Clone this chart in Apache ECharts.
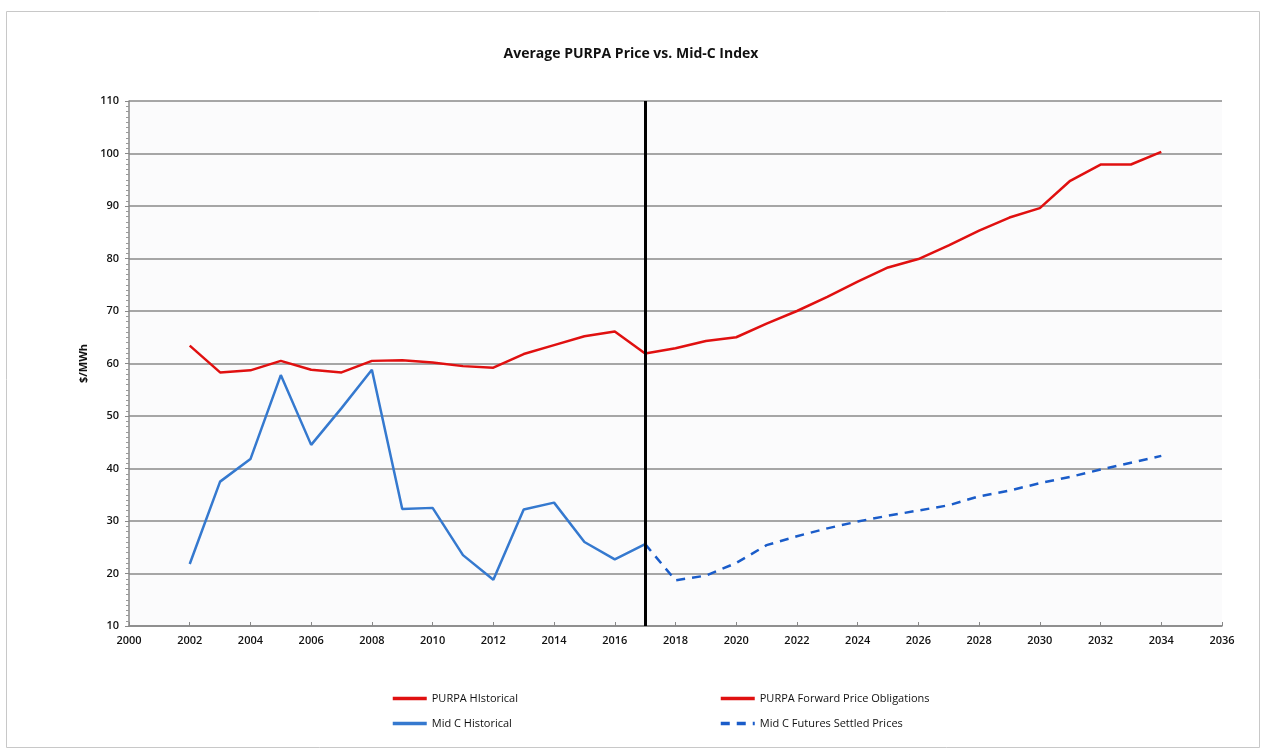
<!DOCTYPE html>
<html><head><meta charset="utf-8">
<script src="https://cdn.jsdelivr.net/npm/echarts@6/dist/echarts.min.js"></script>
<style>html,body{margin:0;padding:0;background:#fff}#c{width:1262px;height:748px}</style>
</head><body><div id="c"></div>
<script>
const purpaHistYears = [2002,2003,2004,2005,2006,2007,2008,2009,2010,2011,2012,2013,2014,2015,2016,2017];
const purpaHist = [63.4,58.3,58.7,60.5,58.8,58.3,60.5,60.6,60.2,59.5,59.2,61.8,63.5,65.2,66.1,61.9];
const purpaFwdYears = [2017,2018,2019,2020,2021,2022,2023,2024,2025,2026,2027,2028,2029,2030,2031,2032,2033,2034];
const purpaFwd = [61.9,62.9,64.3,65.0,67.6,70.0,72.7,75.6,78.3,79.9,82.5,85.3,87.8,89.6,94.8,97.9,97.9,100.3];
const midCHistYears = [2002,2003,2004,2005,2006,2007,2008,2009,2010,2011,2012,2013,2014,2015,2016,2017];
const midCHist = [21.8,37.5,41.8,57.8,44.5,51.5,58.8,32.3,32.5,23.5,18.8,32.2,33.5,26.0,22.7,25.6];
const midCFutYears = [2017,2018,2019,2020,2021,2022,2023,2024,2025,2026,2027,2028,2029,2030,2031,2032,2033,2034];
const midCFut = [25.6,18.7,19.6,22.0,25.4,27.1,28.6,29.9,31.0,32.0,33.0,34.7,35.8,37.2,38.4,39.8,41.1,42.4];
const dividerYear = 2017;
const seriesNames = ['PURPA HIstorical','PURPA Forward Price Obligations','Mid C Historical','Mid C Futures Settled Prices'];

const pair = (xs, ys) => xs.map((x, i) => [x, ys[i]]);
const FONT = '"Open Sans", "Liberation Sans", sans-serif';
const RED = '#e01010', BLUE = '#3579cf', DBLUE = '#1a5cc9';

const legendCommon = {
  orient: 'vertical', top: 688, itemGap: 14,
  itemWidth: 34, itemHeight: 10,
  itemStyle: {opacity: 0},
  lineStyle: {width: 3.5},
  textStyle: {fontFamily: FONT, fontSize: 11, color: '#111'}
};

const chart = echarts.init(document.getElementById('c'), null, {renderer: 'canvas'});
chart.setOption({
  backgroundColor: '#ffffff',
  animation: false,
  title: {
    text: 'Average PURPA Price vs. Mid-C Index',
    left: 'center', top: 42,
    textStyle: {fontFamily: FONT, fontSize: 14, fontWeight: 'bold', color: '#111'}
  },
  graphic: [{
    type: 'rect', left: 4, top: 9, shape: {width: 1253, height: 736},
    style: {fill: 'none', stroke: '#c8c8c8', lineWidth: 1}
  }],
  legend: [
    Object.assign({data: [seriesNames[0], seriesNames[2]], left: 386}, legendCommon),
    Object.assign({data: [seriesNames[1], seriesNames[3]], left: 714}, legendCommon)
  ],
  grid: {left: 129, right: 40, top: 101, bottom: 122, containLabel: false,
    show: true, backgroundColor: '#fbfbfc', borderWidth: 0},
  xAxis: {
    type: 'value', min: 2000, max: 2036, interval: 2,
    axisLine: {show: true, lineStyle: {color: '#888', width: 1.5}},
    axisTick: {show: true, inside: true, length: 4, lineStyle: {color: '#888'}},
    axisLabel: {fontFamily: FONT, fontSize: 11, fontWeight: 600, color: '#111', margin: 9, formatter: v => String(v)},
    splitLine: {show: false}
  },
  yAxis: {
    type: 'value', min: 10, max: 110, interval: 10,
    name: '$/MWh', nameLocation: 'middle', nameGap: 36, nameRotate: 90,
    nameTextStyle: {fontFamily: FONT, fontSize: 11, fontWeight: 'bold', color: '#111'},
    axisLine: {show: true, lineStyle: {color: '#888', width: 1.5}},
    axisTick: {show: true, length: 4, lineStyle: {color: '#888'}},
    minorTick: {show: true, splitNumber: 10, length: 3, lineStyle: {color: '#999'}},
    axisLabel: {fontFamily: FONT, fontSize: 11, fontWeight: 600, color: '#111', margin: 10},
    splitLine: {show: true, lineStyle: {color: '#8a8a8a', width: 1.5}}
  },
  series: [{
    name: seriesNames[0], type: 'line', data: pair(purpaHistYears, purpaHist),
    showSymbol: false, symbol: 'none', color: RED, lineStyle: {color: RED, width: 2.5},
    markLine: {
      silent: true, symbol: 'none', label: {show: false},
      lineStyle: {color: '#000', width: 3, type: 'solid'},
      data: [{xAxis: dividerYear}]
    }
  }, {
    name: seriesNames[1], type: 'line', data: pair(purpaFwdYears, purpaFwd),
    showSymbol: false, symbol: 'none', color: RED, lineStyle: {color: RED, width: 2.5}
  }, {
    name: seriesNames[2], type: 'line', data: pair(midCHistYears, midCHist),
    showSymbol: false, symbol: 'none', color: BLUE, lineStyle: {color: BLUE, width: 2.5}
  }, {
    name: seriesNames[3], type: 'line', data: pair(midCFutYears, midCFut),
    showSymbol: false, symbol: 'none', color: DBLUE,
    lineStyle: {color: DBLUE, width: 2.5, type: [9, 7]}
  }]
});
</script></body></html>
